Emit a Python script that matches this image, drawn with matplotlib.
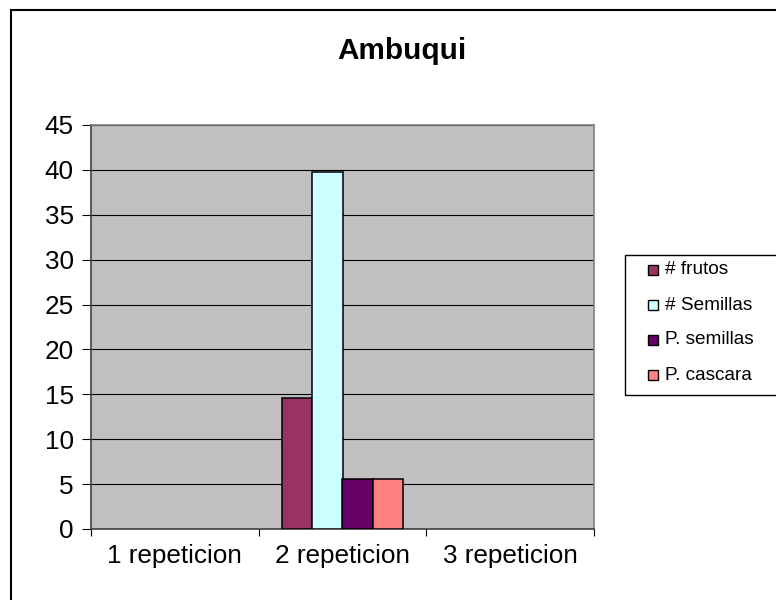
import numpy as np
import matplotlib
matplotlib.use("Agg")
import matplotlib.pyplot as plt
from matplotlib.patches import Rectangle
from matplotlib.lines import Line2D

plt.rcParams['font.family'] = ['Liberation Sans', 'DejaVu Sans']

categories = ["1 repeticion", "2 repeticion", "3 repeticion"]
series_names = ["# frutos", "# Semillas", "P. semillas", "P. cascara"]
frutos = [0, 14.6, 0]
semillas = [0, 39.8, 0]
p_semillas = [0, 5.6, 0]
p_cascara = [0, 5.6, 0]
colors = ["#993366", "#CCFFFF", "#660066", "#FF8080"]

values = [frutos, semillas, p_semillas, p_cascara]

W, H = 776, 600
fig = plt.figure(figsize=(W / 100, H / 100), dpi=100)


def fx(px):
    return px / W


def fy(py):
    return 1 - py / H


# plot area: 91..594 px wide, 125..529 px tall
ax = fig.add_axes([fx(91), fy(529), fx(594) - fx(91), fy(125) - fy(529)])
ax.set_facecolor("#C0C0C0")

x = np.arange(len(categories))
bar_w = 1 / 5.5
for i, (name, vals) in enumerate(zip(series_names, values)):
    offs = (i - 1.5) * bar_w
    heights = [v if v > 0 else np.nan for v in vals]
    ax.bar(x + offs, heights, width=bar_w, color=colors[i],
           edgecolor="black", linewidth=1.1, label=name, zorder=3)

ax.set_xlim(-0.5, 2.5)
ax.set_ylim(0, 45)
ax.set_yticks(np.arange(0, 46, 5))
ax.yaxis.grid(True, color="black", linewidth=0.8, zorder=1)
ax.set_axisbelow(True)

ax.set_xticks(x)
ax.set_xticklabels(categories, fontsize=18.8)
ax.set_xticks([-0.5, 0.5, 1.5, 2.5], minor=True)
ax.tick_params(axis="x", which="major", length=0, pad=11)
ax.tick_params(axis="x", which="minor", length=5, width=0.8, direction="out")
ax.tick_params(axis="y", labelsize=18.8, length=6.5, width=0.8, direction="out", pad=6)

for side in ["top", "right"]:
    ax.spines[side].set_color("#808080")
    ax.spines[side].set_linewidth(1.2)
for side in ["left", "bottom"]:
    ax.spines[side].set_color("#404040")
    ax.spines[side].set_linewidth(1.2)

fig.text(fx(401.5), fy(59), "Ambuqui", fontsize=21.4, fontweight="bold",
         ha="center", va="baseline")

# legend (box runs off the right edge of the picture)
fig.patches.append(Rectangle((fx(625), fy(395)), fx(800) - fx(625), fy(255) - fy(395),
                             transform=fig.transFigure, facecolor="white",
                             edgecolor="black", linewidth=1))
row_y = [270, 305, 340, 375]
for name, col, yy in zip(series_names, colors, row_y):
    fig.patches.append(Rectangle((fx(648), fy(yy + 5)), fx(658) - fx(648), fy(yy - 5) - fy(yy + 5),
                                 transform=fig.transFigure, facecolor=col,
                                 edgecolor="black", linewidth=1))
    fig.text(fx(665), fy(yy), name, fontsize=13.7, ha="left", va="center")

# outer chart border (only top and left visible)
fig.add_artist(Line2D([fx(11), 1], [fy(10), fy(10)], transform=fig.transFigure,
                      color="black", linewidth=1.5))
fig.add_artist(Line2D([fx(11), fx(11)], [fy(10), 0], transform=fig.transFigure,
                      color="black", linewidth=1.5))

fig.savefig("out.png", dpi=100)
